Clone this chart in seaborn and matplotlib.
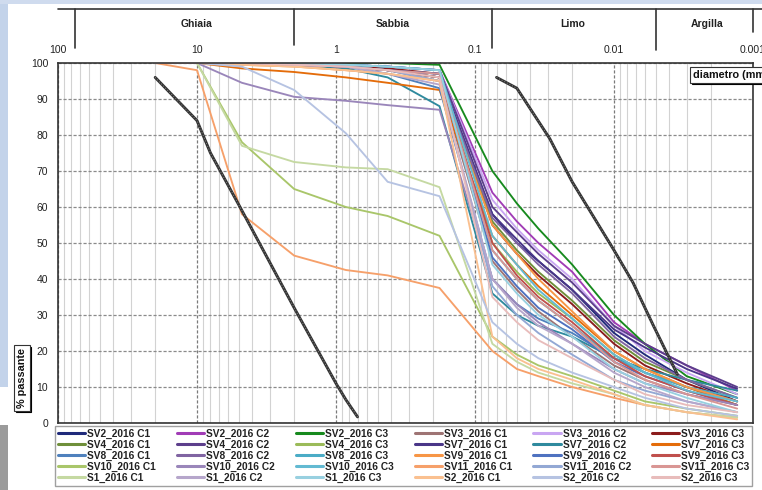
import numpy as np
import pandas as pd
import matplotlib
matplotlib.use("Agg")
import matplotlib.pyplot as plt
import matplotlib.transforms as mtransforms
import seaborn as sns
from matplotlib.lines import Line2D
from matplotlib.patches import Rectangle

sns.set_theme(style="white")
plt.rcParams['font.family'] = ['Liberation Sans', 'DejaVu Sans']

# ---------------- data ----------------
diametri = [20, 10, 4.75, 2, 0.85, 0.425, 0.18, 0.075, 0.05, 0.035, 0.02, 0.01, 0.006, 0.003, 0.0013]

sv2_c1 = [100, 100, 100, 99.5, 99, 98, 96, 58, 50, 45, 37, 25, 19, 12, 6]
sv2_c2 = [100, 100, 100, 100, 99.5, 99, 98, 64, 56, 50, 42, 28, 22, 16, 9]
sv2_c3 = [100, 100, 100, 100, 100, 100, 99.5, 70, 61, 54, 44, 30, 22, 13, 8]
sv3_c1 = [100, 100, 100, 99.5, 99, 98, 95, 45, 37, 31, 24, 16, 12, 8, 5]
sv3_c2 = [100, 100, 100, 100, 99.5, 99, 98, 62, 54, 48, 40, 27, 20, 14, 8]
sv3_c3 = [100, 100, 100, 99.5, 99, 98.5, 97, 55, 47, 41, 33, 22, 16, 11, 6]
sv4_c1 = [100, 100, 100, 99.5, 99, 98, 96, 56, 48, 42, 34, 23, 17, 12, 7]
sv4_c2 = [100, 100, 100, 100, 99.5, 99, 98, 60, 53, 47, 39, 27, 22, 16, 10]
sv4_c3 = [100, 100, 100, 99.5, 99, 98, 96, 50, 42, 36, 29, 19, 14, 10, 5]
sv7_c1 = [100, 100, 100, 99.5, 99, 98, 97, 58, 51, 45, 37, 26, 21, 15, 9.5]
sv7_c2 = [100, 100, 100, 99.5, 98.5, 96, 88, 36, 30, 27, 24, 18, 15, 12, 9]
sv7_c3 = [100, 100, 98.5, 97.5, 96, 94.5, 92.5, 52, 44, 38, 30, 20, 15, 10, 5]
sv8_c1 = [100, 100, 100, 99.5, 99, 97, 93, 40, 33, 29, 25, 18, 14, 10, 6]
sv8_c2 = [100, 100, 100, 99.5, 99, 98, 96, 57, 50, 44, 36, 24, 18, 12, 7]
sv8_c3 = [100, 100, 100, 100, 99.5, 99, 98, 48, 40, 34, 27, 18, 14, 10, 7]
sv9_c1 = [100, 100, 99.5, 99, 98, 97, 95, 55, 47, 40, 31, 20, 15, 10, 6]
sv9_c2 = [100, 100, 100, 99.5, 99, 98, 97, 46, 38, 32, 26, 17, 13, 9, 5]
sv9_c3 = [100, 100, 100, 99.5, 99, 98, 96, 50, 41, 35, 28, 18, 13, 9, 5]
sv10_c1 = [100, 100, 78, 65, 60, 57.5, 52, 24, 19, 16, 13, 9, 6, 4, 2]
sv10_c2 = [100, 100, 94.5, 90.6, 89.5, 88.3, 87, 40, 33, 28, 22, 15, 11, 8, 5]
sv10_c3 = [100, 100, 100, 100, 99.5, 99, 98, 52, 44, 37, 29, 19, 14, 9, 6]
sv11_c1 = [100, 98, 58, 46.5, 42.5, 41, 37.5, 20, 15, 13, 10, 7, 5, 3, 1.5]
sv11_c2 = [100, 100, 100, 99.5, 99, 98, 95, 38, 30, 25, 19, 12, 9, 6, 3]
sv11_c3 = [100, 100, 100, 99.5, 99, 98, 97, 48, 40, 34, 27, 17, 12, 8, 4]
s1_c1 = [100, 100, 77, 72.5, 71, 70.5, 65.5, 22, 17, 14, 11, 8, 5, 3, 1.5]
s1_c2 = [100, 100, 100, 99.5, 99, 97, 94, 40, 32, 27, 22, 14, 10, 6, 3]
s1_c3 = [100, 100, 100, 100, 99.5, 99, 98, 44, 36, 30, 24, 15, 11, 7, 3]
s2_c1 = [100, 100, 99.5, 99, 98, 97, 95, 24, 18, 15, 12, 8, 5, 3, 1]
s2_c2 = [100, 100, 99, 92.5, 80.5, 67, 63, 28, 22, 18, 14, 10, 7, 4, 2]
s2_c3 = [100, 100, 100, 99.5, 99, 98, 96, 35, 28, 23, 18, 12, 8, 5, 3]

campioni = [
    "SV2_2016 C1", "SV2_2016 C2", "SV2_2016 C3", "SV3_2016 C1", "SV3_2016 C2", "SV3_2016 C3",
    "SV4_2016 C1", "SV4_2016 C2", "SV4_2016 C3", "SV7_2016 C1", "SV7_2016 C2", "SV7_2016 C3",
    "SV8_2016 C1", "SV8_2016 C2", "SV8_2016 C3", "SV9_2016 C1", "SV9_2016 C2", "SV9_2016 C3",
    "SV10_2016 C1", "SV10_2016 C2", "SV10_2016 C3", "SV11_2016 C1", "SV11_2016 C2", "SV11_2016 C3",
    "S1_2016 C1", "S1_2016 C2", "S1_2016 C3", "S2_2016 C1", "S2_2016 C2", "S2_2016 C3",
]
serie = [
    sv2_c1, sv2_c2, sv2_c3, sv3_c1, sv3_c2, sv3_c3,
    sv4_c1, sv4_c2, sv4_c3, sv7_c1, sv7_c2, sv7_c3,
    sv8_c1, sv8_c2, sv8_c3, sv9_c1, sv9_c2, sv9_c3,
    sv10_c1, sv10_c2, sv10_c3, sv11_c1, sv11_c2, sv11_c3,
    s1_c1, s1_c2, s1_c3, s2_c1, s2_c2, s2_c3,
]
colori = [
    "#1f2a7a", "#a13cb6", "#178a1e", "#9e7474", "#c9a6f2", "#8b1c1c",
    "#6f8f3a", "#5d3f8c", "#9bbb59", "#4a3688", "#2f8a9e", "#e46c0a",
    "#4f81bd", "#8064a2", "#4bacc6", "#f79646", "#4f72c0", "#c0504d",
    "#a9c66a", "#9a86ba", "#63bad2", "#f6a06a", "#93a8d4", "#d99694",
    "#c5d9a2", "#b6a6cb", "#98d0e0", "#fac090", "#b6c3e2", "#e8bcbb",
]

# envelope curves (black)
fuso_a_d = [20, 10, 8, 4.75, 2, 1, 0.85, 0.7]
fuso_a_p = [96, 84, 75, 59, 32, 11, 6.5, 1.7]
fuso_b_d = [0.07, 0.05, 0.029, 0.02, 0.01, 0.0073, 0.0052, 0.0035]
fuso_b_p = [96, 93, 79, 67, 48, 39, 27, 13.5]

decadi = [100, 10, 1, 0.1, 0.01, 0.001]
etichette_decadi = ["100", "10", "1", "0.1", "0.01", "0.001"]
y_ticks = list(range(0, 101, 10))

zone_limiti = [75, 2, 0.075, 0.005, 0.001]
zone_altezze = [1.042, 1.05, 1.042, 1.036, 1.086]
zone_nomi = ["Ghiaia", "Sabbia", "Limo", "Argilla"]
zone_centri = [10, 0.39, 0.0197, 0.00214]

# ---------------- figure ----------------
W, H = 762, 490
fig = plt.figure(figsize=(W / 100, H / 100), dpi=100)
fig.patch.set_facecolor("white")

# slide background bits
fig.add_artist(Rectangle((0, 1 - 387 / H), 8 / W, 387 / H, transform=fig.transFigure,
                         fc="#c3d3ea", ec="none", zorder=-5))
fig.add_artist(Rectangle((0, 1 - 4 / H), 1, 4 / H, transform=fig.transFigure,
                         fc="#cfdbee", ec="none", zorder=-5))
fig.add_artist(Rectangle((0, 0), 8 / W, 65 / H, transform=fig.transFigure,
                         fc="#9b9b9b", ec="none", zorder=-5))

ax = fig.add_axes([58 / W, (H - 423) / H, (753 - 58) / W, 360 / H])

rows = []
for nome, vals in zip(campioni, serie):
    for d, p in zip(diametri, vals):
        rows.append((nome, d, p))
df = pd.DataFrame(rows, columns=["campione", "diametro", "passante"])

sns.lineplot(data=df, x="diametro", y="passante", hue="campione", hue_order=campioni,
             palette=colori, estimator=None, sort=False, lw=1.35, legend=False, ax=ax)

df_fuso = pd.DataFrame({
    "diametro": fuso_a_d + fuso_b_d,
    "passante": fuso_a_p + fuso_b_p,
    "curva": ["A"] * len(fuso_a_d) + ["B"] * len(fuso_b_d),
})
sns.lineplot(data=df_fuso, x="diametro", y="passante", units="curva", estimator=None,
             sort=False, color="#333333", lw=2.1, ax=ax, zorder=5)
sns.lineplot(data=df_fuso, x="diametro", y="passante", units="curva", estimator=None,
             sort=False, color="#8a8a8a", lw=0.7, ls=(0, (1, 2)), ax=ax, zorder=6)

ax.set_xscale("log")
ax.set_xlim(100, 0.001)
ax.set_ylim(0, 100)
ax.set_xlabel("")
ax.set_ylabel("")
ax.xaxis.set_ticks_position("top")
ax.set_xticks(decadi, labels=etichette_decadi)
ax.xaxis.set_minor_locator(matplotlib.ticker.LogLocator(base=10, subs=np.arange(2, 10)))
ax.xaxis.set_minor_formatter(matplotlib.ticker.NullFormatter())
ax.set_yticks(y_ticks)
ax.tick_params(axis="x", which="both", length=0, pad=6, labelsize=7.5, colors="#222222")
ax.tick_params(axis="y", which="both", length=0, pad=7, labelsize=7.5, colors="#222222")

ax.grid(False)
ax.grid(which="minor", axis="x", color="#d2d2d2", lw=0.8, ls="-", zorder=0)
ax.grid(which="major", axis="x", color="#7a7a7a", lw=0.9, ls=(0, (2.5, 1.5)), zorder=0)
ax.grid(which="major", axis="y", color="#8a8a8a", lw=0.9, ls=(0, (2.5, 1.5)), zorder=0)
ax.set_axisbelow(True)
for s in ax.spines.values():
    s.set_color("#333333")
    s.set_linewidth(1.2)

# header with soil classes
trans = ax.get_xaxis_transform()
ax.plot([100, 0.0005], [1.15, 1.15], transform=trans, clip_on=False, color="#333333", lw=1.2)
for lim, top in zip(zone_limiti, zone_altezze):
    ax.plot([lim, lim], [1.15, top], transform=trans, clip_on=False, color="#333333", lw=1.2)
for nome, c in zip(zone_nomi, zone_centri):
    ax.text(c, 1.108, nome, transform=trans, ha="center", va="center",
            fontsize=7.5, fontweight="bold", color="#222222")


def boxed(x, y, txt, rot=0, size=7.8):
    off = mtransforms.offset_copy(fig.transFigure, fig=fig, x=1.6, y=-1.6, units="dots")
    fig.text(x, y, txt, transform=off, rotation=rot, ha="left" if rot == 0 else "center",
             va="center", fontsize=size, fontweight="bold", color="black",
             bbox=dict(boxstyle="square,pad=0.25", fc="black", ec="black", lw=0.8), zorder=9)
    fig.text(x, y, txt, rotation=rot, ha="left" if rot == 0 else "center", va="center",
             fontsize=size, fontweight="bold", color="#111111",
             bbox=dict(boxstyle="square,pad=0.25", fc="white", ec="#333333", lw=0.8), zorder=10)


boxed(693 / W, 1 - 75 / H, "diametro (mm)", size=7.8)
boxed(22 / W, 1 - 378 / H, "% passante", rot=90, size=7.8)

# legend (row-major reading order)
handles = [Line2D([0], [0], color=c, lw=2.2) for c in colori]
ncol, nrow = 6, 5
order = [r * ncol + c for c in range(ncol) for r in range(nrow)]
leg = fig.legend([handles[i] for i in order], [campioni[i] for i in order], ncol=ncol,
                 loc="upper left", bbox_to_anchor=(55 / W, 1 - 486 / H, 697 / W, 60 / H),
                 mode="expand", prop={"size": 7.3, "weight": "bold"}, frameon=True,
                 fancybox=False, edgecolor="#888888", handlelength=2.7, handletextpad=0.2,
                 labelspacing=0.1, borderpad=0.25, borderaxespad=0, columnspacing=0.5)
leg.get_frame().set_linewidth(1.0)
for t in leg.get_texts():
    t.set_color("#222222")

fig.savefig("out.png", dpi=100)
